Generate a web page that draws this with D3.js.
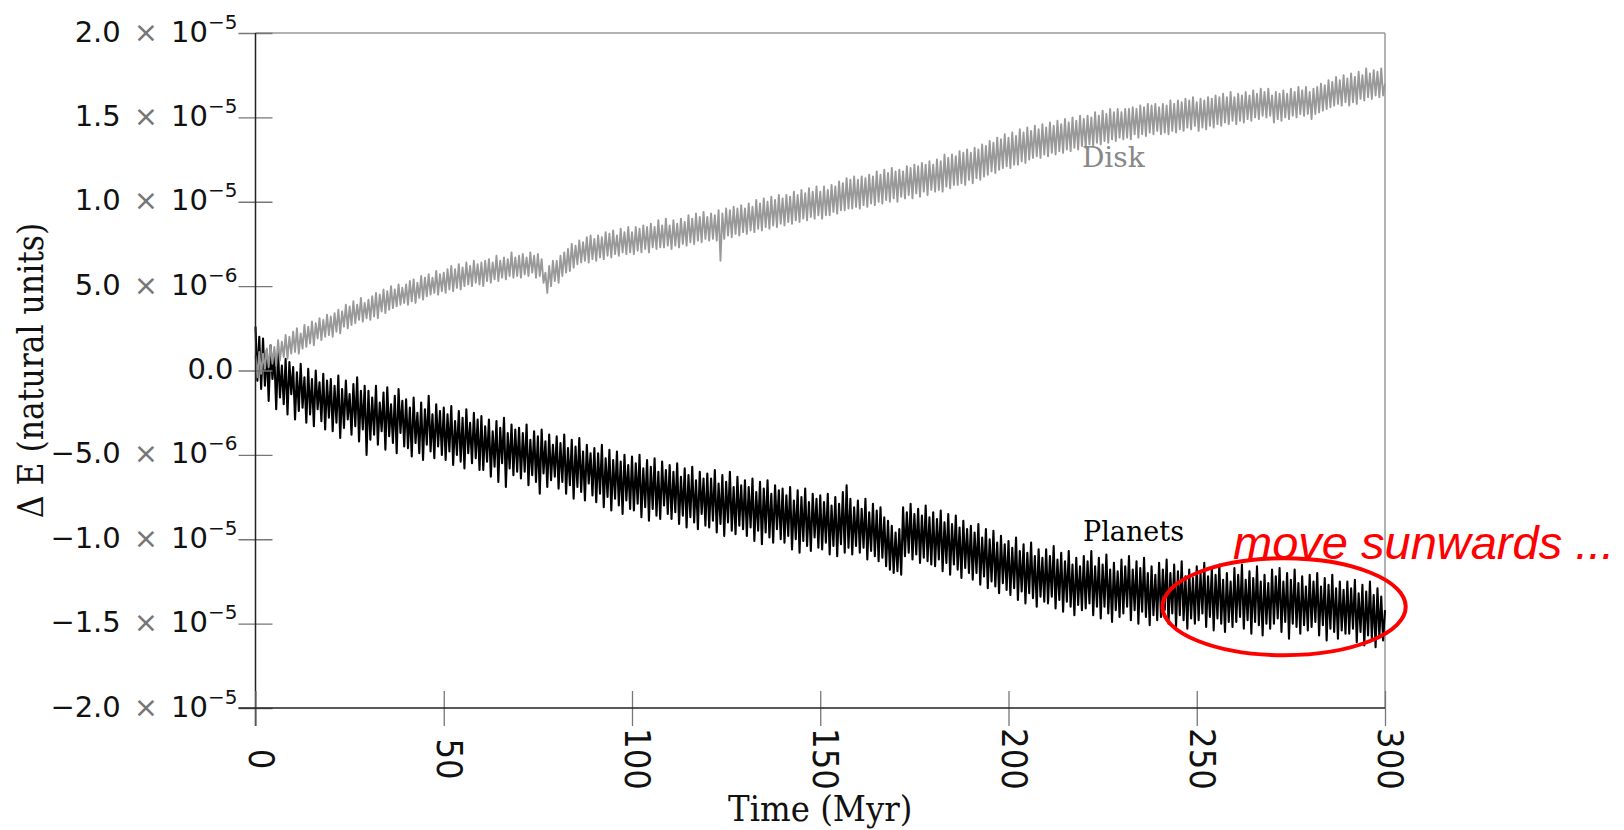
<!DOCTYPE html>
<html lang="en">
<head>
    <meta charset="UTF-8">
    <title>Energy error of disk and planets</title>
    <script src="https://d3js.org/d3.v7.min.js" charset="utf-8"></script>
    <style>
        body, html {
            margin: 0;
            padding: 0;
            background: #fff;
            overflow: hidden;
        }
        svg { display: block; }
        .ylab { font-family: "DejaVu Sans", sans-serif; font-size: 29px; fill: #111; }
        .xlab { font-family: "DejaVu Sans Condensed", "DejaVu Sans", sans-serif; font-stretch: condensed; font-size: 36px; fill: #111; }
        .serif { font-family: "DejaVu Serif", serif; }
    </style>
</head>
<body>
    <svg id="chart"></svg>

    <script>
        const width = 1624;
        const height = 830;

        // energy error, in units of 1e-6 (natural units), one sample every 0.5 Myr from 0 to 300
        const planets = [
            2.6, -0.6, 2.0, -1.1, 1.9, -0.9, 1.2, -1.8, 1.5, -0.5, 0.9, -2.3, 1.1, -1.6, 0.3, -2.0, 0.7, -2.6, 0.5, -1.4,
            0.2, -2.9, -0.1, -2.4, 0.4, -2.2, -0.4, -3.1, 0.1, -2.6, -0.5, -3.3, 0.0, -2.3, -0.7, -3.0, -0.2, -3.5, -0.6, -2.8,
            -0.5, -3.6, -0.9, -3.1, -0.3, -4.0, -1.1, -3.4, -0.6, -2.9, -1.4, -3.8, -0.8, -3.3, -0.4, -4.2, -1.2, -3.5, -0.9, -5.0,
            -1.2, -4.1, -1.6, -3.8, -0.9, -4.4, -1.9, -3.6, -1.3, -4.7, -1.0, -3.9, -2.0, -4.3, -1.5, -4.9, -1.1, -3.7, -1.8, -4.5,
            -1.7, -4.6, -2.2, -5.1, -1.6, -4.3, -2.5, -4.9, -1.9, -5.3, -2.3, -4.4, -1.5, -4.8, -2.6, -5.2, -2.0, -4.5, -2.4, -5.0,
            -2.2, -5.3, -2.6, -4.8, -2.1, -5.6, -3.0, -5.0, -2.4, -5.4, -2.8, -5.8, -2.3, -4.9, -3.1, -5.5, -2.5, -5.2, -2.9, -5.9,
            -2.7, -5.9, -3.3, -5.4, -2.9, -6.3, -3.6, -5.7, -3.0, -6.6, -3.4, -5.5, -2.8, -6.9, -3.7, -5.8, -3.2, -6.2, -3.5, -6.0,
            -3.4, -6.4, -3.7, -6.0, -3.2, -6.8, -4.1, -6.2, -3.6, -6.6, -3.9, -7.3, -3.5, -6.1, -4.2, -6.9, -3.8, -6.5, -4.4, -6.3,
            -3.9, -7.0, -4.3, -6.6, -3.8, -7.3, -4.6, -6.8, -4.1, -7.6, -4.5, -6.9, -4.0, -7.2, -4.8, -7.7, -4.4, -6.7, -4.9, -7.4,
            -4.6, -7.8, -4.9, -7.3, -4.4, -8.1, -5.2, -7.5, -4.7, -8.3, -5.3, -7.6, -4.8, -8.0, -5.4, -8.5, -5.0, -7.7, -5.6, -8.2,
            -5.1, -8.3, -5.5, -7.9, -5.0, -8.7, -5.8, -8.1, -5.3, -8.9, -5.7, -8.2, -5.2, -8.6, -6.0, -8.8, -5.4, -8.0, -5.9, -8.5,
            -5.6, -8.8, -6.0, -8.4, -5.5, -9.1, -6.3, -8.6, -5.8, -9.3, -6.2, -8.7, -5.7, -9.0, -6.5, -9.4, -6.0, -8.5, -6.4, -9.2,
            -6.1, -9.3, -6.4, -8.9, -5.9, -9.6, -6.7, -9.1, -6.2, -9.8, -6.6, -9.0, -6.0, -9.5, -6.9, -9.7, -6.3, -9.2, -6.8, -9.4,
            -6.5, -9.8, -6.9, -9.3, -6.4, -10.1, -7.2, -9.5, -6.6, -10.3, -7.0, -9.6, -6.5, -9.9, -7.3, -10.2, -6.8, -9.4, -7.1, -10.0,
            -7.0, -10.2, -7.4, -9.8, -6.9, -10.6, -7.7, -10.0, -7.1, -10.8, -7.5, -10.1, -7.0, -10.4, -7.8, -10.7, -7.3, -9.9, -7.6, -10.5,
            -7.4, -10.6, -7.8, -10.2, -7.3, -10.9, -8.0, -10.4, -7.5, -11.0, -7.9, -10.3, -7.2, -10.8, -6.8, -10.5, -7.6, -10.9, -8.1, -10.4,
            -7.7, -10.8, -8.2, -10.5, -7.6, -11.2, -8.4, -10.7, -7.9, -11.0, -8.3, -11.3, -8.1, -11.1, -8.7, -11.6, -8.9, -11.8, -9.2, -12.0,
            -9.6, -11.9, -9.4, -12.1, -8.1, -11.0, -8.4, -10.8, -7.9, -11.2, -8.5, -10.9, -8.2, -11.4, -8.6, -11.1, -8.0, -11.3, -8.7, -11.5,
            -8.4, -11.6, -8.8, -11.2, -8.3, -11.9, -9.0, -11.4, -8.5, -12.1, -9.1, -11.5, -8.6, -11.8, -9.3, -12.3, -8.9, -11.7, -9.4, -12.0,
            -9.2, -12.4, -9.6, -12.0, -9.1, -12.7, -9.9, -12.2, -9.4, -12.9, -10.0, -12.5, -9.5, -12.8, -10.2, -13.2, -9.8, -12.6, -10.3, -13.0,
            -10.1, -13.3, -10.5, -12.9, -9.9, -13.6, -10.7, -13.1, -10.3, -13.8, -10.8, -13.2, -10.2, -13.5, -11.0, -14.0, -10.6, -13.4, -11.1, -13.7,
            -10.6, -13.8, -11.0, -13.4, -10.4, -14.1, -11.2, -13.6, -10.8, -14.3, -11.3, -13.7, -10.7, -14.0, -11.5, -14.5, -11.1, -13.9, -11.6, -14.2,
            -11.0, -14.1, -11.3, -13.8, -10.7, -14.5, -11.6, -14.0, -11.1, -14.7, -11.5, -14.0, -10.9, -14.4, -11.8, -14.9, -11.4, -14.2, -11.9, -14.6,
            -11.2, -14.4, -11.6, -14.0, -11.0, -14.8, -11.8, -14.2, -11.3, -15.0, -11.7, -14.3, -11.1, -14.6, -12.0, -15.1, -11.6, -14.5, -12.1, -14.8,
            -11.4, -14.6, -11.8, -14.2, -11.2, -15.0, -12.0, -14.4, -11.5, -15.2, -11.9, -14.5, -11.3, -14.8, -12.2, -15.3, -11.8, -14.7, -12.3, -15.0,
            -11.6, -14.8, -12.0, -14.4, -11.4, -15.2, -12.2, -14.6, -11.7, -15.4, -12.1, -14.7, -11.5, -15.0, -12.4, -15.5, -12.0, -14.9, -12.5, -15.2,
            -11.7, -14.9, -12.1, -14.6, -11.5, -15.3, -12.4, -14.8, -11.9, -15.6, -12.3, -14.9, -11.6, -15.1, -12.5, -15.7, -12.1, -15.0, -12.6, -15.3,
            -11.8, -15.0, -12.2, -14.7, -11.7, -15.5, -12.5, -14.9, -12.0, -15.9, -12.4, -15.0, -11.8, -15.2, -12.6, -15.6, -12.2, -15.1, -12.8, -15.4,
            -12.1, -15.2, -12.5, -14.9, -12.0, -15.7, -12.8, -15.1, -12.3, -16.0, -12.7, -15.3, -12.1, -15.5, -12.9, -15.9, -12.5, -15.4, -13.0, -15.6,
            -12.5, -15.6, -12.9, -15.3, -12.4, -16.1, -13.2, -15.5, -12.7, -16.3, -13.1, -15.7, -12.5, -15.9, -13.3, -16.4, -12.9, -15.8, -13.4, -16.0,
            -14.2
        ];

        const disk = [
            0.9, -0.4, 1.1, -0.2, 1.0, 0.1, 1.3, 0.2, 1.5, 0.4, 1.4, 0.3, 1.8, 0.6, 1.7, 0.8, 2.1, 0.7, 2.0, 1.0,
            2.3, 1.1, 2.5, 1.0, 2.2, 1.3, 2.7, 1.4, 2.6, 1.6, 2.9, 1.5, 2.8, 1.9, 3.1, 1.8, 3.0, 2.0, 3.3, 2.1,
            3.2, 2.0, 3.4, 2.3, 3.6, 2.2, 3.5, 2.6, 3.9, 2.5, 3.8, 2.7, 4.1, 2.8, 3.9, 3.0, 4.3, 2.9, 4.0, 3.1,
            4.2, 3.0, 4.4, 3.2, 4.6, 3.1, 4.5, 3.5, 4.8, 3.4, 4.7, 3.6, 5.0, 3.7, 4.8, 3.8, 5.1, 3.9, 4.9, 4.0,
            5.1, 3.9, 5.3, 4.1, 5.4, 4.0, 5.2, 4.3, 5.6, 4.2, 5.5, 4.4, 5.7, 4.5, 5.5, 4.6, 5.9, 4.5, 5.7, 4.7,
            5.8, 4.6, 6.0, 4.8, 6.2, 4.7, 6.0, 4.9, 6.3, 4.8, 6.1, 5.0, 6.4, 5.1, 6.2, 5.0, 6.5, 5.2, 6.3, 5.1,
            6.4, 5.0, 6.5, 5.3, 6.6, 5.2, 6.4, 5.4, 6.8, 5.3, 6.5, 5.5, 6.7, 5.4, 6.6, 5.6, 7.0, 5.5, 6.7, 5.6,
            6.8, 5.5, 6.9, 5.7, 6.7, 5.6, 7.0, 5.8, 6.8, 5.5, 6.9, 5.6, 6.6, 5.2, 5.8, 4.6, 6.2, 5.0, 6.5, 5.3,
            6.5, 5.2, 6.8, 5.6, 7.0, 5.8, 7.2, 5.9, 7.5, 6.1, 7.4, 6.3, 7.7, 6.4, 7.6, 6.5, 7.9, 6.4, 8.0, 6.6,
            7.8, 6.5, 8.0, 6.7, 7.9, 6.6, 8.2, 6.8, 8.1, 6.7, 8.3, 6.9, 8.0, 6.8, 8.4, 7.0, 8.2, 6.9, 8.5, 7.0,
            8.2, 6.9, 8.5, 7.1, 8.4, 7.0, 8.6, 7.2, 8.5, 7.0, 8.7, 7.3, 8.5, 7.2, 8.9, 7.3, 8.6, 7.3, 9.0, 7.4,
            8.6, 7.2, 8.9, 7.4, 8.7, 7.3, 9.0, 7.5, 8.8, 7.4, 9.2, 7.6, 9.0, 7.5, 9.3, 7.7, 9.1, 7.6, 9.4, 7.8,
            9.1, 7.7, 9.3, 7.8, 9.2, 7.7, 9.5, 6.5, 9.3, 7.8, 9.6, 8.0, 9.5, 7.9, 9.7, 8.1, 9.6, 8.0, 9.8, 8.2,
            9.6, 8.1, 9.9, 8.3, 9.7, 8.2, 10.1, 8.4, 9.9, 8.3, 10.2, 8.5, 10.0, 8.4, 10.3, 8.6, 10.1, 8.5, 10.4, 8.7,
            10.2, 8.6, 10.4, 8.8, 10.3, 8.7, 10.6, 8.9, 10.4, 8.8, 10.7, 9.0, 10.5, 8.9, 10.8, 9.1, 10.6, 9.0, 10.9, 9.2,
            10.6, 9.0, 10.9, 9.2, 10.7, 9.2, 11.0, 9.4, 10.9, 9.3, 11.2, 9.5, 11.1, 9.5, 11.4, 9.6, 11.3, 9.6, 11.5, 9.7,
            11.3, 9.6, 11.5, 9.8, 11.4, 9.7, 11.6, 9.9, 11.5, 9.8, 11.8, 10.0, 11.6, 9.9, 11.9, 10.1, 11.7, 10.0, 12.0, 10.2,
            11.8, 10.0, 11.9, 10.3, 11.8, 10.2, 12.1, 10.4, 12.0, 10.2, 12.2, 10.5, 12.1, 10.3, 12.3, 10.6, 12.2, 10.4, 12.4, 10.7,
            12.2, 10.6, 12.5, 10.7, 12.4, 10.6, 12.8, 10.9, 12.6, 10.8, 12.8, 11.0, 12.7, 11.0, 13.0, 11.1, 12.9, 11.0, 13.1, 11.3,
            12.9, 11.1, 13.2, 11.4, 13.1, 11.3, 13.4, 11.5, 13.3, 11.6, 13.6, 11.8, 13.5, 11.7, 13.8, 11.9, 13.7, 12.0, 14.0, 12.1,
            13.8, 12.0, 14.1, 12.2, 13.9, 12.2, 14.3, 12.4, 14.1, 12.3, 14.4, 12.5, 14.2, 12.6, 14.5, 12.7, 14.3, 12.6, 14.6, 12.8,
            14.4, 12.7, 14.7, 12.9, 14.5, 12.8, 14.8, 13.0, 14.6, 12.9, 14.9, 13.1, 14.7, 13.0, 15.0, 13.2, 14.8, 13.1, 15.1, 13.3,
            14.9, 13.2, 15.1, 13.4, 15.0, 13.3, 15.3, 13.5, 15.1, 13.4, 15.4, 13.6, 15.2, 13.5, 15.5, 13.7, 15.3, 13.6, 15.5, 13.8,
            15.3, 13.7, 15.5, 13.8, 15.5, 13.7, 15.6, 14.0, 15.5, 13.8, 15.7, 14.0, 15.6, 13.9, 15.8, 14.1, 15.7, 14.0, 15.8, 14.2,
            15.6, 14.0, 15.8, 14.1, 15.7, 14.0, 16.0, 14.2, 15.8, 14.1, 16.0, 14.3, 15.9, 14.2, 16.1, 14.4, 16.0, 14.3, 16.2, 14.5,
            15.9, 14.2, 16.1, 14.4, 16.0, 14.3, 16.2, 14.5, 16.1, 14.4, 16.3, 14.6, 16.2, 14.5, 16.4, 14.7, 16.2, 14.6, 16.5, 14.8,
            16.2, 14.6, 16.4, 14.8, 16.3, 14.7, 16.5, 14.9, 16.3, 14.8, 16.6, 15.0, 16.4, 14.9, 16.7, 15.1, 16.5, 15.0, 16.7, 15.1,
            16.3, 14.7, 16.5, 14.9, 16.4, 14.8, 16.6, 15.0, 16.4, 14.9, 16.7, 15.1, 16.5, 15.0, 16.8, 15.2, 16.6, 15.1, 16.8, 15.2,
            16.5, 14.9, 16.7, 15.2, 16.8, 15.3, 17.0, 15.4, 16.9, 15.5, 17.2, 15.6, 17.1, 15.7, 17.4, 15.8, 17.2, 15.7, 17.5, 15.9,
            17.3, 15.7, 17.6, 15.9, 17.4, 15.8, 17.7, 16.1, 17.5, 16.0, 17.9, 16.2, 17.6, 16.1, 17.8, 16.3, 17.7, 16.2, 17.9, 16.3,
            17.0
        ];

        const timeStep = 0.5; // Myr between samples

        // axis ticks (y in units of 1e-6)
        const xTicks = [0, 50, 100, 150, 200, 250, 300];
        const yTicks = [20, 15, 10, 5, 0, -5, -10, -15, -20];
        const yMantissa = ["2.0", "1.5", "1.0", "5.0", "0.0", "\u22125.0", "\u22121.0", "\u22121.5", "\u22122.0"];
        const yExponent = ["\u22125", "\u22125", "\u22125", "\u22126", "", "\u22126", "\u22125", "\u22125", "\u22125"];

        // annotation: circled region, in data units
        const circleCenter = [273.2, -14.0];
        const circleRadii = [32.3, 2.87];

        const svg = d3.select("#chart")
            .attr("width", width)
            .attr("height", height);

        const x = d3.scaleLinear().domain([0, 300]).range([255.5, 1385]);
        const y = d3.scaleLinear().domain([-20, 20]).range([708, 33]);

        // frame: top and right in grey
        svg.append('line')
            .attr('x1', x(0)).attr('x2', x(300))
            .attr('y1', y(20)).attr('y2', y(20))
            .attr('stroke', '#999').attr('stroke-width', 1.5);
        svg.append('line')
            .attr('x1', x(300)).attr('x2', x(300))
            .attr('y1', y(20)).attr('y2', y(-20))
            .attr('stroke', '#999').attr('stroke-width', 1.5);

        // series
        const line = d3.line()
            .x((d, i) => x(i * timeStep))
            .y(d => y(d));

        svg.append('path')
            .datum(planets)
            .attr('d', line)
            .attr('fill', 'none')
            .attr('stroke', '#000')
            .attr('stroke-width', 2.1)
            .attr('stroke-linejoin', 'round');

        svg.append('path')
            .datum(disk)
            .attr('d', line)
            .attr('fill', 'none')
            .attr('stroke', '#999')
            .attr('stroke-width', 1.9)
            .attr('stroke-linejoin', 'round');

        // y axis
        const yAxisGroup = svg.append('g')
            .attr('transform', `translate(${x(0)},0)`)
            .call(d3.axisLeft(y).tickValues(yTicks).tickFormat(''));
        yAxisGroup.select('.domain').remove();
        yAxisGroup.selectAll('.tick line')
            .attr('x1', -17).attr('x2', 17)
            .attr('stroke', '#777').attr('stroke-width', 1.3);
        yAxisGroup.selectAll('.tick text').remove();
        yAxisGroup.append('line')
            .attr('y1', y(20)).attr('y2', y(-20) + 18)
            .attr('stroke', '#222').attr('stroke-width', 1.5);

        yAxisGroup.selectAll('.tick').each(function(d, i) {
            const t = d3.select(this).append('text')
                .attr('class', 'ylab')
                .attr('x', yExponent[i] ? -18 : -22)
                .attr('y', 8)
                .attr('text-anchor', 'end');
            t.append('tspan').text(yMantissa[i]);
            if (yExponent[i]) {
                t.append('tspan').attr('dx', 13).attr('fill', '#777').text('\u00d7');
                t.append('tspan').attr('dx', 13).text('10');
                t.append('tspan')
                    .attr('dy', -13)
                    .style('font-size', '20px')
                    .text(yExponent[i]);
            }
        });

        // x axis
        const xAxisGroup = svg.append('g')
            .attr('transform', `translate(0,${y(-20)})`)
            .call(d3.axisBottom(x).tickValues(xTicks));
        xAxisGroup.select('.domain').remove();
        xAxisGroup.append('line')
            .attr('x1', x(0) - 17).attr('x2', x(300))
            .attr('stroke', '#222').attr('stroke-width', 1.5);
        xAxisGroup.selectAll('.tick line')
            .attr('y1', -17).attr('y2', 18)
            .attr('stroke', '#777').attr('stroke-width', 1.3);
        xAxisGroup.selectAll('.tick text')
            .attr('class', 'xlab')
            .attr('transform', 'rotate(90)')
            .attr('x', 51)
            .attr('y', -5)
            .attr('dy', null)
            .attr('dominant-baseline', 'central')
            .attr('text-anchor', 'middle')
            .attr('fill', '#111');

        // axis titles
        svg.append('text')
            .attr('class', 'serif')
            .attr('x', (x(0) + x(300)) / 2)
            .attr('y', 821)
            .attr('text-anchor', 'middle')
            .style('font-size', '36px')
            .style('font-stretch', 'condensed')
            .attr('fill', '#111')
            .text('Time (Myr)');

        svg.append('text')
            .attr('class', 'serif')
            .attr('transform', `translate(43,${y(0)}) rotate(-90)`)
            .attr('text-anchor', 'middle')
            .style('font-size', '35px')
            .style('font-stretch', 'condensed')
            .attr('fill', '#111')
            .text('\u0394 E (natural units)');

        // series labels
        svg.append('text')
            .attr('class', 'serif')
            .attr('x', x(219.5))
            .attr('y', y(12.05))
            .style('font-size', '28px')
            .attr('fill', '#888')
            .text('Disk');

        svg.append('text')
            .attr('class', 'serif')
            .attr('x', x(219.8))
            .attr('y', y(-10.1))
            .style('font-size', '27px')
            .attr('fill', '#000')
            .text('Planets');

        // annotation
        svg.append('ellipse')
            .attr('cx', x(circleCenter[0]))
            .attr('cy', y(circleCenter[1]))
            .attr('rx', x(circleRadii[0]) - x(0))
            .attr('ry', y(0) - y(circleRadii[1]))
            .attr('fill', 'none')
            .attr('stroke', '#f00')
            .attr('stroke-width', 4);

        svg.append('text')
            .attr('x', 1233)
            .attr('y', 559)
            .style('font-family', '"Liberation Sans", Arial, sans-serif')
            .style('font-style', 'italic')
            .style('font-size', '47px')
            .attr('fill', '#f00')
            .text('move sunwards ...');
    </script>
</body>
</html>
